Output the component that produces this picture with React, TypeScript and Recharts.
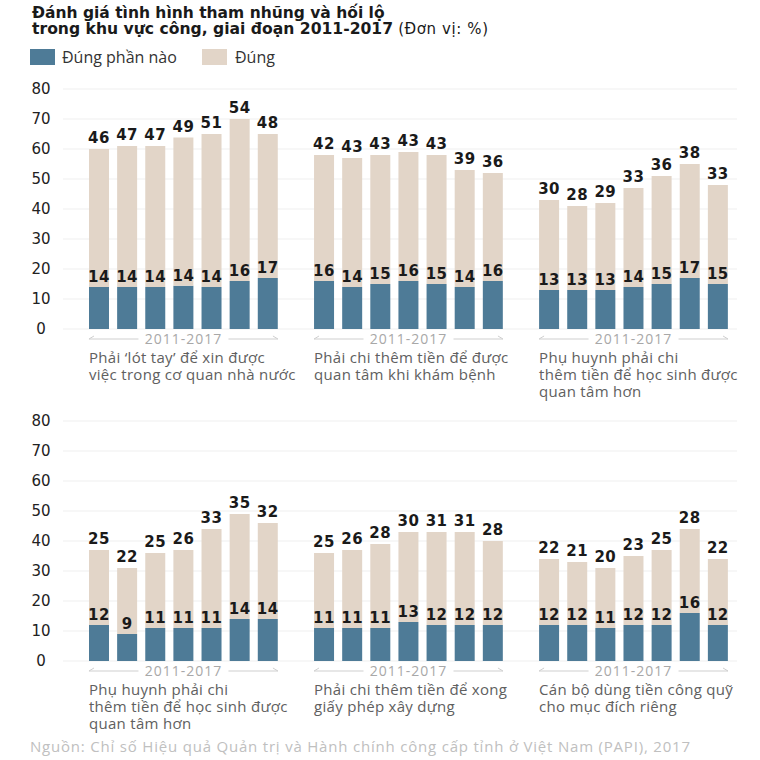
import React from "react";
import { BarChart, Bar, XAxis, YAxis, CartesianGrid, LabelList } from "recharts";

const years = ["2011", "2012", "2013", "2014", "2015", "2016", "2017"];
const yTicks = [0, 10, 20, 30, 40, 50, 60, 70, 80];

// "Đúng phần nào" (bottom) and "Đúng" (top) per panel
const partlyJob = [14, 14, 14, 14.4, 14, 16, 17];
const yesJob = [46, 47, 47, 49.4, 51, 54, 48];
const partlyHospital = [16, 14, 15, 16, 15, 14, 16];
const yesHospital = [42, 43, 43, 43, 43, 39, 36];
const partlySchool = [13, 13, 13, 14, 15, 17, 15];
const yesSchool = [30, 28, 29, 33, 36, 38, 33];
const partlySchool2 = [12, 9, 11, 11, 11, 14, 14];
const yesSchool2 = [25, 22, 25, 26, 33, 35, 32];
const partlyPermit = [11, 11, 11, 13, 12, 12, 12];
const yesPermit = [25, 26, 28, 30, 31, 31, 28];
const partlyFund = [12, 12, 11, 12, 12, 16, 12];
const yesFund = [22, 21, 20, 23, 25, 28, 22];

const titlesTop = [
  ["Phải ‘lót tay’ để xin được", "việc trong cơ quan nhà nước"],
  ["Phải chi thêm tiền để được", "quan tâm khi khám bệnh"],
  ["Phụ huynh phải chi", "thêm tiền để học sinh được", "quan tâm hơn"],
];
const titlesBottom = [
  ["Phụ huynh phải chi", "thêm tiền để học sinh được", "quan tâm hơn"],
  ["Phải chi thêm tiền để xong", "giấy phép xây dựng"],
  ["Cán bộ dùng tiền công quỹ", "cho mục đích riêng"],
];

const BLUE = "#4e7b97";
const TAN = "#e2d5c8";
const FONT = "'Open Sans', sans-serif";
const NUM_FONT = "'DejaVu Sans', sans-serif";
const BAND = 28.16;

function buildRow(parts: number[][], yeses: number[][]) {
  const rows: any[] = [];
  parts.forEach((p, g) => {
    years.forEach((yr, i) => {
      rows.push({ key: `${g}-${yr}`, partly: p[i], yes: yeses[g][i] });
    });
    if (g < parts.length - 1) rows.push({ key: `gap${g}`, partly: null, yes: null });
  });
  return rows;
}

const topRow = buildRow(
  [partlyJob, partlyHospital, partlySchool],
  [yesJob, yesHospital, yesSchool]
);
const bottomRow = buildRow(
  [partlySchool2, partlyPermit, partlyFund],
  [yesSchool2, yesPermit, yesFund]
);

const YTick = (props: any) => (
  <text
    x={41}
    y={props.y}
    textAnchor="middle"
    dominantBaseline="central"
    fontFamily={NUM_FONT}
    fontSize={15}
    fill="#222"
  >
    {props.payload.value}
  </text>
);

const makeXTick = (titles: string[][]) => (props: any) => {
  const panel = [3, 11, 19].indexOf(props.index);
  if (panel < 0) return <g />;
  const cx = props.x;
  const y = props.y;
  const half = 3 * BAND + 10;
  const lineY = y + 10;
  return (
    <g>
      <line x1={cx - half} x2={cx - 45} y1={lineY} y2={lineY} stroke="#cfcfcf" />
      <line x1={cx - half} x2={cx - half + 5} y1={lineY} y2={lineY - 3} stroke="#cfcfcf" />
      <line x1={cx + 45} x2={cx + half} y1={lineY} y2={lineY} stroke="#cfcfcf" />
      <line x1={cx + half} x2={cx + half - 5} y1={lineY} y2={lineY - 3} stroke="#cfcfcf" />
      <text
        x={cx}
        y={y + 14.5}
        textAnchor="middle"
        fontFamily={FONT}
        fontSize={14}
        letterSpacing={1}
        fill="#a8a8a8"
      >
        2011-2017
      </text>
      <text
        x={cx - half}
        y={y + 34}
        fontFamily={FONT}
        fontSize={15}
        letterSpacing={0.3}
        fill="#606060"
      >
        {titles[panel].map((line, i) => (
          <tspan key={i} x={cx - half} dy={i === 0 ? 0 : 17}>
            {line}
          </tspan>
        ))}
      </text>
    </g>
  );
};

const PartlyLabel = (props: any) => {
  const { x, y, width, height, value } = props;
  if (value == null) return null;
  return (
    <text
      x={x + width / 2}
      y={y + height - 5}
      textAnchor="middle"
      fontFamily={NUM_FONT}
      fontWeight="bold"
      fontSize={15}
      letterSpacing={0.5}
      fill="#1a1a1a"
    >
      {Math.round(value)}
    </text>
  );
};

const YesLabel = (props: any) => {
  const { x, y, width, value } = props;
  if (value == null) return null;
  return (
    <text
      x={x + width / 2}
      y={y - 6}
      textAnchor="middle"
      fontFamily={NUM_FONT}
      fontWeight="bold"
      fontSize={15}
      letterSpacing={0.5}
      fill="#1a1a1a"
    >
      {Math.round(value)}
    </text>
  );
};

function PanelRow({ data, titles, top }: { data: any[]; titles: string[][]; top: number }) {
  return (
    <div style={{ position: "absolute", left: 0, top }}>
      <BarChart
        width={760}
        height={324}
        data={data}
        margin={{ top: 9, right: 23, left: 0, bottom: 0 }}
        barSize={20}
      >
        <CartesianGrid vertical={false} stroke="#efefef" />
        <YAxis
          width={63}
          domain={[0, 80]}
          ticks={yTicks}
          axisLine={false}
          tickLine={false}
          tick={<YTick />}
        />
        <XAxis
          dataKey="key"
          height={75}
          interval={0}
          padding={{ left: 22, right: 5 }}
          axisLine={false}
          tickLine={false}
          tickSize={0}
          tickMargin={0}
          tick={makeXTick(titles)}
        />
        <Bar dataKey="partly" stackId="a" fill={BLUE} isAnimationActive={false} />
        <Bar dataKey="yes" stackId="a" fill={TAN} isAnimationActive={false}>
          <LabelList dataKey="partly" content={<PartlyLabel />} />
          <LabelList dataKey="yes" content={<YesLabel />} />
        </Bar>
      </BarChart>
    </div>
  );
}

export default function App() {
  return (
    <div
      style={{
        position: "absolute",
        left: 0,
        top: 0,
        width: 760,
        height: 760,
        background: "#fff",
        fontFamily: FONT,
        overflow: "hidden",
      }}
    >
      <div
        style={{
          position: "absolute",
          left: 32,
          top: 5,
          fontFamily: NUM_FONT,
          lineHeight: "16px",
          color: "#1a1a1a",
        }}
      >
        <div style={{ fontWeight: 700, fontSize: 15.5 }}>
          Đánh giá tình hình tham nhũng và hối lộ
        </div>
        <div>
          <span style={{ fontWeight: 700, fontSize: 15.6 }}>
            trong khu vực công, giai đoạn 2011-2017
          </span>{" "}
          <span style={{ fontSize: 15, letterSpacing: 0.6 }}>(Đơn vị: %)</span>
        </div>
      </div>
      <div
        style={{
          position: "absolute",
          left: 30,
          top: 49,
          display: "flex",
          alignItems: "center",
          fontSize: 16,
          lineHeight: "16px",
          color: "#333",
        }}
      >
        <span style={{ width: 25, height: 16, background: BLUE, display: "inline-block" }} />
        <span style={{ marginLeft: 7, width: 140 }}>Đúng phần nào</span>
        <span style={{ width: 25, height: 16, background: TAN, display: "inline-block" }} />
        <span style={{ marginLeft: 8 }}>Đúng</span>
      </div>
      <PanelRow data={topRow} titles={titlesTop} top={80} />
      <PanelRow data={bottomRow} titles={titlesBottom} top={412} />
      <div
        style={{
          position: "absolute",
          left: 30,
          top: 736,
          fontSize: 15,
          color: "#c0c0c0",
          letterSpacing: 0.8,
        }}
      >
        Nguồn: Chỉ số Hiệu quả Quản trị và Hành chính công cấp tỉnh ở Việt Nam (PAPI), 2017
      </div>
    </div>
  );
}
